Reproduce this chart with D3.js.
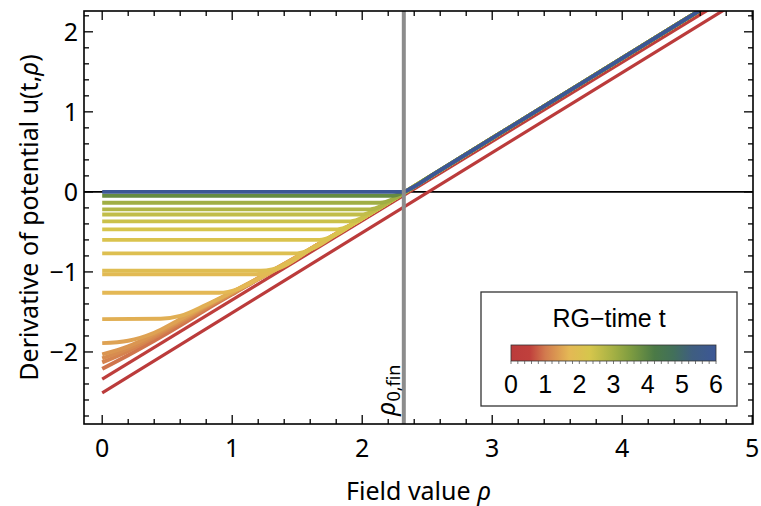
<!DOCTYPE html>
<html><head><meta charset="utf-8">
<script src="https://cdn.jsdelivr.net/npm/d3@7"></script>
<style>body{margin:0;background:#fff}</style>
</head><body><svg id="c" width="761" height="506"></svg>
<script>
// ---- data ----
const xTicks = [0, 1, 2, 3, 4, 5];
const yTicks = [-2, -1, 0, 1, 2];
const legendTicks = [0, 1, 2, 3, 4, 5, 6];
const rho0fin = 2.32;
const legendStopT = [0, 0.55, 1.0, 1.7, 2.3, 3.0, 3.5, 4.2, 4.75, 5.3, 6];
const legendStopColor = ["#bb3b3b", "#c0403c", "#d27a4e", "#e4b855", "#d6c64c", "#a4b044", "#7e9c40", "#4b7a46", "#42705a", "#3f5e80", "#3c5796"];

// RG time of every curve (order of drawing)
const curveTimes = [0, 0.3, 0.95, 1.1, 1.2, 1.3, 1.45, 1.6, 1.7, 1.8, 1.9, 2.0, 2.15, 2.25, 2.45, 2.6, 2.8, 3.05, 3.85, 6];

// each curve: [rho, u'] points
const c00 = [[0,-2.51],[5,2.49]];
const c01 = [[0,-2.34],[5,2.61]];
const c02 = [[0,-2.21],[0.2,-2.04],[0.4,-1.86],[0.6,-1.67],[0.8,-1.47],[1.0,-1.28],[1.2,-1.09],[1.4,-0.91],[1.7,-0.62],[2.0,-0.33],[3,0.67],[4,1.67],[5,2.67]];
const c03 = [[0,-2.13],[0.2,-1.99],[0.4,-1.82],[0.6,-1.64],[0.8,-1.45],[1.0,-1.27],[1.2,-1.09],[1.4,-0.91],[1.7,-0.62],[2.0,-0.33],[3,0.67],[4,1.67],[5,2.67]];
const c04 = [[0,-2.08],[0.2,-1.96],[0.4,-1.80],[0.6,-1.62],[0.8,-1.44],[1.0,-1.27],[1.2,-1.09],[1.4,-0.91],[1.7,-0.62],[2.0,-0.33],[3,0.67],[4,1.67],[5,2.67]];
const c05 = [[0,-2.03],[0.2,-1.93],[0.4,-1.78],[0.6,-1.61],[0.8,-1.43],[1.0,-1.26],[1.2,-1.08],[1.4,-0.90],[1.7,-0.62],[2.0,-0.33],[3,0.67],[4,1.67],[5,2.67]];
const c06 = [[0,-1.89],[0.2,-1.86],[0.4,-1.76],[0.6,-1.59],[0.8,-1.42],[1.0,-1.25],[1.2,-1.08],[1.4,-0.90],[1.7,-0.62],[2.0,-0.33],[3,0.67],[4,1.67],[5,2.67]];
const c07 = [[0,-1.59],[0.45,-1.585],[0.6,-1.55],[0.8,-1.41],[1.0,-1.25],[1.2,-1.08],[1.4,-0.90],[1.7,-0.62],[2.0,-0.33],[3,0.67],[4,1.67],[5,2.67]];
const c08 = [[0,-1.26],[0.9,-1.26],[1.05,-1.21],[1.2,-1.09],[1.4,-0.91],[1.7,-0.62],[2.0,-0.33],[3,0.67],[4,1.67],[5,2.67]];
const c09 = [[0,-1.03],[1.18,-1.03],[1.38,-0.94],[1.6,-0.72],[1.9,-0.43],[3,0.67],[4,1.67],[5,2.67]];
const c10 = [[0,-0.985],[1.22,-0.985],[1.40,-0.92],[1.6,-0.72],[1.9,-0.43],[3,0.67],[4,1.67],[5,2.67]];
const c11 = [[0,-0.768],[1.50,-0.768],[1.63,-0.70],[1.8,-0.53],[2.1,-0.23],[3,0.67],[4,1.67],[5,2.67]];
const c12 = [[0,-0.60],[1.67,-0.60],[1.79,-0.54],[1.95,-0.38],[2.2,-0.13],[3,0.67],[4,1.67],[5,2.67]];
const c13 = [[0,-0.468],[1.81,-0.468],[1.92,-0.41],[2.08,-0.25],[2.3,-0.03],[3,0.67],[4,1.67],[5,2.67]];
const c14 = [[0,-0.368],[1.91,-0.368],[2.02,-0.31],[2.18,-0.15],[2.4,0.07],[3,0.67],[4,1.67],[5,2.67]];
const c15 = [[0,-0.283],[1.99,-0.283],[2.10,-0.23],[2.26,-0.07],[2.5,0.17],[3,0.67],[4,1.67],[5,2.67]];
const c16 = [[0,-0.218],[2.06,-0.218],[2.17,-0.16],[2.33,0.0],[2.6,0.27],[3,0.67],[4,1.67],[5,2.67]];
const c17 = [[0,-0.135],[2.14,-0.135],[2.25,-0.08],[2.41,0.08],[2.7,0.37],[3,0.67],[4,1.67],[5,2.67]];
const c18 = [[0,-0.048],[2.23,-0.048],[2.34,0.01],[2.5,0.17],[2.8,0.47],[3.5,1.17],[4,1.67],[5,2.67]];
const c19 = [[0,0],[2.31,0],[2.38,0.05],[2.55,0.22],[2.8,0.47],[3.5,1.17],[4,1.67],[5,2.67]];
const allCurves = [c00,c01,c02,c03,c04,c05,c06,c07,c08,c09,c10,c11,c12,c13,c14,c15,c16,c17,c18,c19];

// ---- drawing ----
const svg = d3.select("#c");
const L = 84, R = 753, T = 11, B = 424;
const x = d3.scaleLinear().domain([-0.14, 5.006]).range([L, R]);
const y = d3.scaleLinear().domain([-2.9, 2.26]).range([B, T]);
const color = d3.scaleLinear().domain(legendStopT).range(legendStopColor).interpolate(d3.interpolateRgb);
const mainFont = "'Noto Sans', sans-serif";
const legFont = "'Liberation Sans', Arial, sans-serif";

svg.append("defs").append("clipPath").attr("id","plot")
  .append("rect").attr("x",L).attr("y",T).attr("width",R-L).attr("height",B-T);

const plot = svg.append("g").attr("clip-path","url(#plot)");
plot.append("line").attr("x1",L).attr("x2",R).attr("y1",y(0)).attr("y2",y(0))
  .attr("stroke","#000").attr("stroke-width",1.8);

const line = d3.line().x(d=>x(d[0])).y(d=>y(d[1])).curve(d3.curveMonotoneX);
allCurves.forEach((pts,i)=>{
  plot.append("path").attr("d",line(pts)).attr("fill","none")
    .attr("stroke",color(curveTimes[i]))
    .attr("stroke-width", i<2 ? 3.2 : 3.9)
    .attr("stroke-linejoin","round");
});

plot.append("line").attr("x1",x(rho0fin)).attr("x2",x(rho0fin)).attr("y1",T).attr("y2",B)
  .attr("stroke","#8c8c8c").attr("stroke-width",4);

// rotated label
const lab = svg.append("text").attr("transform",`translate(${x(rho0fin)-9},416) rotate(-90)`)
  .attr("font-family",mainFont).attr("font-size",26).attr("fill","#000");
lab.append("tspan").attr("font-style","italic").text("ρ");
lab.append("tspan").attr("font-size",18).attr("dy",5).text("0,fin");

// frame
svg.append("rect").attr("x",L).attr("y",T).attr("width",R-L).attr("height",B-T)
  .attr("fill","none").attr("stroke","#000").attr("stroke-width",1.6);

const ticks = svg.append("g").attr("stroke","#000").attr("stroke-width",1.3);
const xMinor = d3.range(0, 26).map(i=>i/5);
xMinor.forEach(v=>{
  const major = Math.abs(v-Math.round(v))<1e-6;
  const len = major?9:5;
  ticks.append("line").attr("x1",x(v)).attr("x2",x(v)).attr("y1",B).attr("y2",B-len);
  ticks.append("line").attr("x1",x(v)).attr("x2",x(v)).attr("y1",T).attr("y2",T+len);
});
const yMinor = d3.range(-28, 23, 2).map(i=>i/10);
yMinor.forEach(v=>{
  const major = Math.abs(v-Math.round(v))<1e-6;
  const len = major?9:5;
  ticks.append("line").attr("x1",L).attr("x2",L+len).attr("y1",y(v)).attr("y2",y(v));
  ticks.append("line").attr("x1",R).attr("x2",R-len).attr("y1",y(v)).attr("y2",y(v));
});

const fmt = d3.format("d");
svg.append("g").selectAll("text").data(xTicks).join("text")
  .attr("x",d=>x(d)).attr("y",457).attr("text-anchor","middle")
  .attr("font-family",mainFont).attr("font-size",25).text(d=>fmt(d));
svg.append("g").selectAll("text").data(yTicks).join("text")
  .attr("x",78).attr("y",d=>y(d)+9).attr("text-anchor","end")
  .attr("font-family",mainFont).attr("font-size",25).text(d=>fmt(d));

const xt = svg.append("text").attr("x",(L+R)/2).attr("y",500).attr("text-anchor","middle")
  .attr("font-family",mainFont).attr("font-size",25);
xt.append("tspan").text("Field value ");
xt.append("tspan").attr("font-style","italic").text("ρ");

const yt = svg.append("text").attr("transform",`translate(38,${(T+B)/2}) rotate(-90)`)
  .attr("text-anchor","middle").attr("font-family",mainFont).attr("font-size",25);
yt.append("tspan").text("Derivative of potential u(t,");
yt.append("tspan").attr("font-style","italic").text("ρ");
yt.append("tspan").text(")");

// legend
const lg = svg.append("g");
lg.append("rect").attr("x",481).attr("y",292).attr("width",256).attr("height",114)
  .attr("fill","#fff").attr("stroke","#333").attr("stroke-width",1.3);
lg.append("text").attr("x",609).attr("y",327).attr("text-anchor","middle")
  .attr("font-family",legFont).attr("font-size",25).text("RG\u2212time t");
const grad = svg.select("defs").append("linearGradient").attr("id","rg")
  .attr("x1","0%").attr("x2","100%");
legendStopT.forEach((t,i)=>grad.append("stop").attr("offset",(t/6*100)+"%").attr("stop-color",legendStopColor[i]));
const lx = d3.scaleLinear().domain([0,6]).range([511,716]);
lg.append("rect").attr("x",lx(0)).attr("y",345).attr("width",lx(6)-lx(0)).attr("height",16)
  .attr("fill","url(#rg)").attr("stroke","#333").attr("stroke-width",0.8);
d3.range(0,31).forEach(i=>{
  lg.append("line").attr("x1",lx(i*0.2)).attr("x2",lx(i*0.2)).attr("y1",361).attr("y2",364)
    .attr("stroke","#555").attr("stroke-width",0.8);
});
lg.selectAll("text.lt").data(legendTicks).join("text").attr("class","lt")
  .attr("x",d=>lx(d)).attr("y",393).attr("text-anchor","middle")
  .attr("font-family",legFont).attr("font-size",25).text(d=>d);
</script></body></html>
